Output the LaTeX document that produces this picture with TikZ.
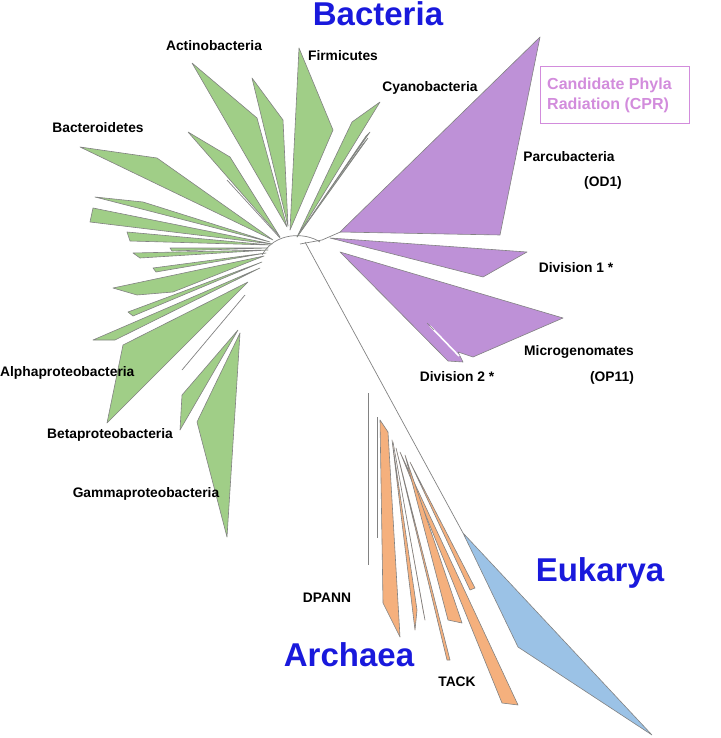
\documentclass[tikz,border=0pt]{standalone}
\usepackage{fontspec}
\setmainfont{Liberation Sans}
\definecolor{gr}{RGB}{160,206,135}
\definecolor{pu}{RGB}{190,145,215}
\definecolor{orr}{RGB}{245,176,125}
\definecolor{bl}{RGB}{155,194,230}
\definecolor{ed}{RGB}{130,130,130}
\definecolor{cpr}{RGB}{210,140,220}
\definecolor{bt}{RGB}{25,25,220}
\begin{document}
\begin{tikzpicture}[x=1pt,y=-1pt,
 g/.style={fill=gr,draw=ed,line width=0.6pt,line join=round},
 p/.style={fill=pu,draw=ed,line width=0.6pt,line join=round},
 o/.style={fill=orr,draw=ed,line width=0.6pt,line join=round},
 b/.style={fill=bl,draw=ed,line width=0.6pt,line join=round},
 br/.style={draw=ed,line width=0.7pt},
 lab/.style={font=\fontsize{13.8}{16}\selectfont\bfseries,inner sep=0pt},
 big/.style={font=\fontsize{33}{36}\selectfont\bfseries,text=bt,inner sep=0pt}]
\useasboundingbox (0,0) rectangle (720,738);
% root arc
\draw[br] (262,255) .. controls (275,232) and (305,232) .. (320,242);
% green wedges top
\draw[g] (287,227) -- (192,63) -- (257,118) -- cycle;
\draw[g] (288,226) -- (252,78) -- (283,120) -- cycle;
\draw[g] (290,230) -- (299,48) -- (333,130) -- cycle;
\draw[g] (273,240) -- (80,147) -- (157,158) -- cycle;
\draw[g] (280,237) -- (188,132) -- (230,157) -- cycle;
\draw[br] (280,238) -- (227,180);
\draw[g] (297,237) -- (380,102) -- (352,122) -- cycle;
\draw[g] (297,237) -- (370,132) -- (366,136) -- cycle;
\draw[g] (297,237) -- (368,138) -- (363,144) -- cycle;
% green left
\draw[g] (270,242) -- (95,197) -- (143,202) -- cycle;
\draw[g] (272,244) -- (93,208) -- (90,222) -- cycle;
\draw[g] (270,245) -- (127,232) -- (130,241) -- cycle;
\draw[g] (268,248) -- (170,248) -- (172,251) -- cycle;
\draw[g] (268,250) -- (133,253) -- (140,258) -- cycle;
\draw[g] (266,253) -- (153,268) -- (156,272) -- cycle;
\draw[g] (264,256) -- (113,288) -- (137,295) -- (173,292) -- cycle;
\draw[g] (262,262) -- (128,312) -- (133,316) -- cycle;
\draw[g] (260,268) -- (93,340) -- (115,340) -- cycle;
\draw[g] (248,282) -- (123,345) -- (107,423) -- cycle;
\draw[br] (245,295) -- (182,370);
\draw[g] (238,330) -- (182,395) -- (180,430) -- cycle;
\draw[g] (240,333) -- (197,422) -- (227,537) -- cycle;
% purple
\draw[br] (300,244) -- (322,240) -- (345,230);
\draw[p] (340,232) -- (540,37) -- (500,235) -- cycle;
\draw[p] (330,238) -- (527,252) -- (483,277) -- cycle;
\draw[p] (340,252) -- (563,318) -- (473,357) -- (458,352) -- (463,362) -- (448,361) -- cycle;
\draw[white,line width=1.6pt] (430,326) -- (459,356);
\draw[ed,line width=0.4pt] (427,323) -- (434,330);
% trunk
\draw[br] (305,242) -- (463,533);
% gray branches
\draw[br] (368,393) -- (368,565);
\draw[br] (377,417) -- (377,538);
% orange
\draw[o] (380,420) -- (383,603) -- (400,637) -- (388,432) -- cycle;
\draw[o] (392,440) -- (415,630) -- (417,610) -- cycle;
\draw[o] (393,442) -- (423,610) -- (425,620) -- cycle;
\draw[o] (396,448) -- (447,660) -- (450,660) -- cycle;
\draw[o] (400,452) -- (502,703) -- (518,705) -- cycle;
\draw[o] (405,455) -- (448,620) -- (462,623) -- cycle;
\draw[o] (410,462) -- (470,590) -- (475,588) -- cycle;
% eukarya
\draw[b] (463,533) -- (518,647) -- (652,735) -- cycle;
% labels
\node[big] (bac) at (378,14) {Bacteria};
\node[lab] (act) at (214,46) {Actinobacteria};
\node[lab] (fir) at (343,56) {Firmicutes};
\node[lab] (cya) at (430,88) {Cyanobacteria};
\node[lab] (bct) at (98,128) {Bacteroidetes};
\node[draw=cpr,line width=1.2pt,minimum width=149pt,minimum height=57pt] (box) at (615,95) {};
\node[font=\fontsize{16}{20}\selectfont\bfseries,text=cpr,align=left,inner sep=0pt,anchor=west] (cprt) at (547,95) {Candidate Phyla\\Radiation (CPR)};
\node[lab] (par) at (569,157) {Parcubacteria};
\node[lab] (od1) at (603,183) {(OD1)};
\node[lab] (d1) at (576,268) {Division 1 *};
\node[lab] (mic) at (579,352) {Microgenomates};
\node[lab] (op11) at (612,378) {(OP11)};
\node[lab] (d2) at (457,377) {Division 2 *};
\node[lab,anchor=west] (alp) at (0,373) {Alphaproteobacteria};
\node[lab] (bet) at (110,435) {Betaproteobacteria};
\node[lab] (gam) at (146,494) {Gammaproteobacteria};
\node[lab] (dp) at (327,598) {DPANN};
\node[big] (arc) at (349,655) {Archaea};
\node[lab] (tack) at (457,682) {TACK};
\node[big] (euk) at (600,573) {Eukarya};
\end{tikzpicture}
\end{document}
